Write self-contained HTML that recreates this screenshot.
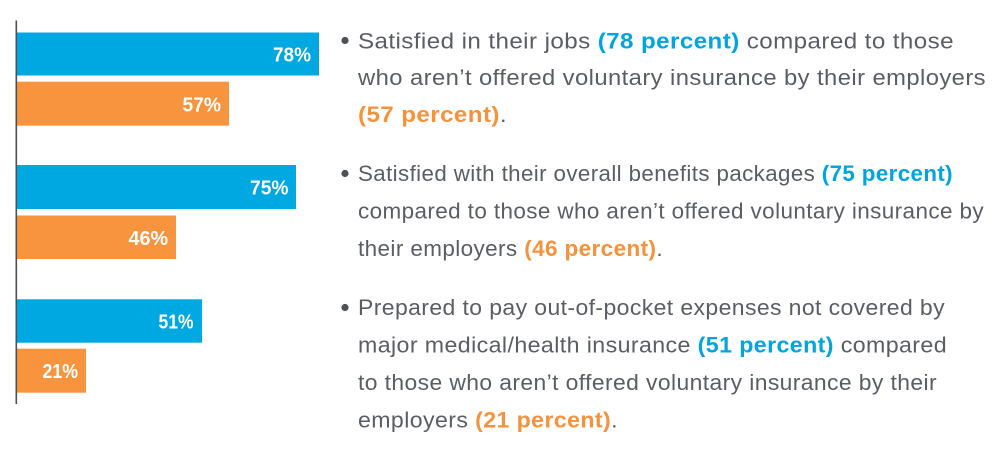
<!DOCTYPE html>
<html>
<head>
<meta charset="utf-8">
<style>
  html, body { margin: 0; padding: 0; background: #ffffff; }
  body { width: 1000px; height: 449px; overflow: hidden; }
  svg { display: block; }
  .t { font-family: "Liberation Sans", Arial, sans-serif; font-size: 22.5px; fill: #5a5e64; letter-spacing: 0.4px; }
  .bb { font-weight: bold; fill: #00a5df; }
  .bo { font-weight: bold; fill: #f7923a; }
  .lbl { font-family: "Liberation Sans", Arial, sans-serif; font-size: 20px; font-weight: bold; fill: #ffffff; }
</style>
</head>
<body>
<svg width="1000" height="449" viewBox="0 0 1000 449" xmlns="http://www.w3.org/2000/svg">
  <!-- bars -->
  <rect x="17" y="32.5" width="302" height="43" fill="#00a8e1"/>
  <rect x="17" y="81.7" width="212" height="44" fill="#f7943d"/>
  <rect x="17" y="165" width="279" height="44" fill="#00a8e1"/>
  <rect x="17" y="215.5" width="159" height="43.5" fill="#f7943d"/>
  <rect x="17" y="299.3" width="185" height="43.4" fill="#00a8e1"/>
  <rect x="17" y="348.7" width="69" height="44" fill="#f7943d"/>
  <!-- axis -->
  <rect x="15.5" y="20.5" width="1.6" height="383.5" fill="#4b4f57"/>

  <!-- bar labels -->
  <text class="lbl" x="311" y="61.5" text-anchor="end" textLength="38" lengthAdjust="spacingAndGlyphs">78%</text>
  <text class="lbl" x="221" y="111.5" text-anchor="end" textLength="38.5" lengthAdjust="spacingAndGlyphs">57%</text>
  <text class="lbl" x="288.5" y="194.5" text-anchor="end" textLength="38.5" lengthAdjust="spacingAndGlyphs">75%</text>
  <text class="lbl" x="168" y="245" text-anchor="end" textLength="39.5" lengthAdjust="spacingAndGlyphs">46%</text>
  <text class="lbl" x="193.5" y="328.5" text-anchor="end" textLength="35" lengthAdjust="spacingAndGlyphs">51%</text>
  <text class="lbl" x="78" y="378" text-anchor="end" textLength="35.5" lengthAdjust="spacingAndGlyphs">21%</text>

  <!-- bullets -->
  <circle cx="345" cy="40.5" r="3.6" fill="#4d5257"/>
  <circle cx="345" cy="173.5" r="3.6" fill="#4d5257"/>
  <circle cx="345" cy="307.5" r="3.6" fill="#4d5257"/>

  <!-- block 1 -->
  <text class="t" x="358" y="48.3" textLength="596" lengthAdjust="spacingAndGlyphs">Satisfied in their jobs <tspan class="bb">(78 percent)</tspan> compared to those</text>
  <text class="t" x="358" y="85.2" textLength="628" lengthAdjust="spacingAndGlyphs">who aren’t offered voluntary insurance by their employers</text>
  <text class="t" x="358" y="122" textLength="149" lengthAdjust="spacingAndGlyphs"><tspan class="bo">(57 percent)</tspan>.</text>

  <!-- block 2 -->
  <text class="t" x="358" y="181" textLength="595" lengthAdjust="spacingAndGlyphs">Satisfied with their overall benefits packages <tspan class="bb">(75 percent)</tspan></text>
  <text class="t" x="358" y="218.5" textLength="626" lengthAdjust="spacingAndGlyphs">compared to those who aren’t offered voluntary insurance by</text>
  <text class="t" x="358" y="256" textLength="305" lengthAdjust="spacingAndGlyphs">their employers <tspan class="bo">(46 percent)</tspan>.</text>

  <!-- block 3 -->
  <text class="t" x="358" y="315" textLength="587" lengthAdjust="spacingAndGlyphs">Prepared to pay out-of-pocket expenses not covered by</text>
  <text class="t" x="358" y="352.5" textLength="589" lengthAdjust="spacingAndGlyphs">major medical/health insurance <tspan class="bb">(51 percent)</tspan> compared</text>
  <text class="t" x="358" y="390" textLength="579" lengthAdjust="spacingAndGlyphs">to those who aren’t offered voluntary insurance by their</text>
  <text class="t" x="358" y="427.5" textLength="260" lengthAdjust="spacingAndGlyphs">employers <tspan class="bo">(21 percent)</tspan>.</text>
</svg>
</body>
</html>
